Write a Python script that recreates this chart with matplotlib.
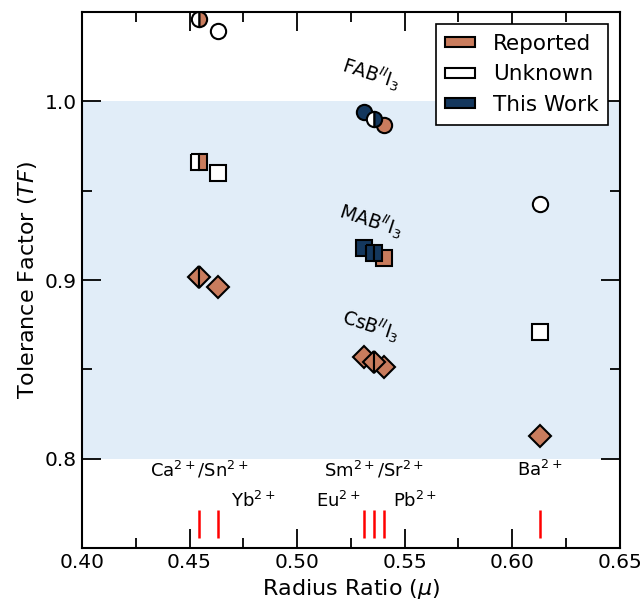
import matplotlib
matplotlib.use("Agg")
import matplotlib.pyplot as plt
from matplotlib.patches import Patch

# Colours
orange = "#c97c5d"
white = "#ffffff"
navy = "#14375d"
band = "#e1edf8"

# B-site cations and radius ratios (x positions)
cations = ["Ca/Sn", "Yb", "Eu", "Pb", "Sm/Sr", "Ba"]
radius_ratio = [0.4542, 0.4634, 0.5312, 0.5403, 0.5358, 0.6128]

# Tolerance factors
tf_fa = [1.0461, 1.0393, 0.9938, 0.9870, 0.9899, 0.9427]
tf_ma = [0.9663, 0.9601, 0.9180, 0.9124, 0.9152, 0.8708]
tf_cs = [0.9017, 0.8961, 0.8567, 0.8511, 0.8539, 0.8129]

# (left half, right half) fill for each point; shared sites are split markers
fill_fa = [(white, orange), (white, white), (navy, navy), (orange, orange), (white, navy), (white, white)]
fill_ma = [(white, orange), (white, white), (navy, navy), (orange, orange), (navy, navy), (white, white)]
fill_cs = [(orange, orange), (orange, orange), (orange, orange), (orange, orange), (orange, orange), (orange, orange)]
split = [True, False, False, False, True, False]

# Cation labels at the bottom
ion_labels = [r"Ca$^{2+}$/Sn$^{2+}$", r"Yb$^{2+}$", r"Sm$^{2+}$/Sr$^{2+}$", r"Eu$^{2+}$", r"Pb$^{2+}$", r"Ba$^{2+}$"]
ion_x = [0.4545, 0.4795, 0.5358, 0.519, 0.5547, 0.6128]
ion_y = [0.7935, 0.7765, 0.7935, 0.7765, 0.7765, 0.7935]

fig = plt.figure(figsize=(6.43, 6.02), dpi=100)
ax = fig.add_axes([0.1275, 0.0897, 0.8365, 0.8903])

ax.axhspan(0.8, 1.0, color=band, zorder=0, lw=0)


def draw(xs, ys, fills, marker):
    for x, y, (left, right), half in zip(xs, ys, fills, split):
        if half:
            ax.plot(x, y, marker=marker, ms=11, mec="black", mew=1.5,
                    fillstyle="left", mfc=left, mfcalt=right, ls="none", zorder=3)
        else:
            ax.plot(x, y, marker=marker, ms=11, mec="black", mew=1.5,
                    mfc=left, ls="none", zorder=3)


draw(radius_ratio, tf_fa, fill_fa, "o")
draw(radius_ratio, tf_ma, fill_ma, "s")
draw(radius_ratio, tf_cs, fill_cs, "D")

# red marks for each cation
ax.vlines(radius_ratio, 0.7555, 0.771, colors="red", lw=1.8, zorder=2)

for lab, x, y in zip(ion_labels, ion_x, ion_y):
    ax.text(x, y, lab, ha="center", va="center", fontsize=13)

ax.text(0.5345, 1.0155, r"FAB$^{II}$I$_3$", rotation=-18, ha="center", va="center", fontsize=13.5)
ax.text(0.5345, 0.9335, r"MAB$^{II}$I$_3$", rotation=-18, ha="center", va="center", fontsize=13.5)
ax.text(0.5345, 0.8745, r"CsB$^{II}$I$_3$", rotation=-18, ha="center", va="center", fontsize=13.5)

ax.set_xlim(0.40, 0.65)
ax.set_ylim(0.75, 1.05)
ax.set_xticks([0.40, 0.45, 0.50, 0.55, 0.60, 0.65])
ax.set_xticks([0.425, 0.475, 0.525, 0.575, 0.625], minor=True)
ax.set_yticks([0.8, 0.9, 1.0])
ax.set_yticks([0.85, 0.95], minor=True)
ax.xaxis.set_major_formatter(matplotlib.ticker.FormatStrFormatter("%.2f"))
ax.yaxis.set_major_formatter(matplotlib.ticker.FormatStrFormatter("%.1f"))
ax.tick_params(which="both", direction="in", top=True, right=True, labelsize=14.5, width=1.3)
ax.tick_params(which="major", length=14)
ax.tick_params(which="minor", length=7.5)
for s in ax.spines.values():
    s.set_linewidth(1.5)

ax.set_xlabel(r"Radius Ratio ($\mu$)", fontsize=16)
ax.set_ylabel(r"Tolerance Factor ($TF$)", fontsize=16)

handles = [Patch(facecolor=orange, edgecolor="black", lw=1.5),
           Patch(facecolor=white, edgecolor="black", lw=1.5),
           Patch(facecolor=navy, edgecolor="black", lw=1.5)]
leg = ax.legend(handles, ["Reported", "Unknown", "This Work"], loc="upper right",
                fontsize=15.5, fancybox=False, framealpha=1, edgecolor="black",
                handlelength=1.4, handleheight=0.35, borderaxespad=0.55,
                labelspacing=0.5, borderpad=0.45, handletextpad=0.8)
leg.get_frame().set_linewidth(1.2)

fig.savefig("out.png", dpi=100)
